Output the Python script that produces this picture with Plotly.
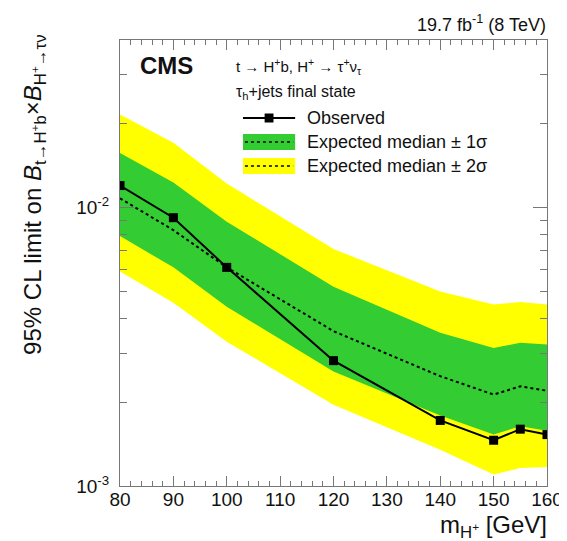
import math
import plotly.graph_objects as go

# ---------------- data ----------------
mass = [80, 90, 100, 120, 140, 150, 155, 160]
observed = [0.0120, 0.0092, 0.0061, 0.00282, 0.00172, 0.00146, 0.00160, 0.00153]
expected = [0.0108, 0.0083, 0.0061, 0.0036, 0.00248, 0.00213, 0.00228, 0.00220]
exp_p1 = [0.0157, 0.0123, 0.0089, 0.0052, 0.00355, 0.00313, 0.00327, 0.00322]
exp_m1 = [0.0079, 0.0061, 0.0044, 0.00258, 0.00179, 0.00153, 0.00164, 0.00158]
exp_p2 = [0.0216, 0.0171, 0.0122, 0.0071, 0.0050, 0.00449, 0.00458, 0.00449]
exp_m2 = [0.0059, 0.00455, 0.0033, 0.00196, 0.00135, 0.00110, 0.00116, 0.00117]

x_ticks = [80, 90, 100, 110, 120, 130, 140, 150, 160]
y_major = [0.001, 0.01]
y_major_text = ["10<sup>-3</sup>", "10<sup>-2</sup>"]
y_minor = [0.002, 0.003, 0.004, 0.005, 0.006, 0.007, 0.008, 0.009, 0.02, 0.03, 0.04]
y_range = [0.001, 0.04]

YELLOW = "#ffff00"
GREEN = "#33cc33"
FONT = "Liberation Sans"

W, H = 567, 541
L, R, T, B = 112, 21, 32, 63
pw, ph = W - L - R, H - T - B


def px(x):
    return (x - L) / pw


def py(y):
    return (H - B - y) / ph


fig = go.Figure()
fig.add_trace(go.Scatter(x=mass, y=exp_m2, mode="lines", line=dict(width=0, color=YELLOW),
                         showlegend=False, hoverinfo="skip"))
fig.add_trace(go.Scatter(x=mass, y=exp_p2, mode="lines", line=dict(width=0, color=YELLOW),
                         fill="tonexty", fillcolor=YELLOW, showlegend=False))
fig.add_trace(go.Scatter(x=mass, y=exp_m1, mode="lines", line=dict(width=0, color=GREEN),
                         showlegend=False, hoverinfo="skip"))
fig.add_trace(go.Scatter(x=mass, y=exp_p1, mode="lines", line=dict(width=0, color=GREEN),
                         fill="tonexty", fillcolor=GREEN, showlegend=False))
fig.add_trace(go.Scatter(x=mass, y=expected, mode="lines",
                         line=dict(color="black", width=2, dash="dot"), showlegend=False))
fig.add_trace(go.Scatter(x=mass, y=observed, mode="lines+markers",
                         line=dict(color="black", width=2),
                         marker=dict(symbol="square", size=9, color="black"), showlegend=False))

axis_common = dict(showline=True, linecolor="#777", linewidth=1, mirror="allticks",
                   ticks="inside", tickcolor="#777", showgrid=False, zeroline=False,
                   tickfont=dict(family=FONT, size=19, color="#111"))

fig.update_xaxes(range=[80, 160], tickvals=x_ticks, ticklen=10, ticklabelstandoff=-4,
                 minor=dict(dtick=2, ticks="inside", ticklen=5, tickcolor="#777"),
                 **axis_common)
fig.update_yaxes(type="log", range=[math.log10(v) for v in y_range],
                 tickvals=y_major, ticktext=y_major_text, ticklen=14, ticklabelstandoff=6,
                 minor=dict(tickvals=y_minor, ticks="inside", ticklen=7, tickcolor="#777"),
                 **axis_common)

ann = []
ann.append(dict(x=px(547), y=py(16), xref="paper", yref="paper", xanchor="right", yanchor="middle",
                text="19.7 fb<sup>-1</sup> (8 TeV)", showarrow=False,
                font=dict(family=FONT, size=18, color="#111")))
ann.append(dict(x=px(130), y=py(57), xref="paper", yref="paper", xanchor="left", yanchor="middle",
                text="<b>CMS</b>", showarrow=False, font=dict(family=FONT, size=24, color="#111")))
ann.append(dict(x=px(228), y=py(59), xref="paper", yref="paper", xanchor="left", yanchor="middle",
                text="t → H<sup>+</sup>b, H<sup>+</sup> → τ<sup>+</sup>ν<sub>τ</sub>", showarrow=False,
                font=dict(family=FONT, size=15, color="#111")))
ann.append(dict(x=px(228), y=py(84), xref="paper", yref="paper", xanchor="left", yanchor="middle",
                text="τ<sub>h</sub>+jets final state", showarrow=False,
                font=dict(family=FONT, size=16, color="#111")))
leg_text = ["Observed", "Expected median ± 1σ", "Expected median ± 2σ"]
leg_y = [110, 134, 158]
for t, yy in zip(leg_text, leg_y):
    ann.append(dict(x=px(300), y=py(yy), xref="paper", yref="paper", xanchor="left", yanchor="middle",
                    text=t, showarrow=False, font=dict(family=FONT, size=18, color="#111")))

ann.append(dict(x=px(548), y=py(536), xref="paper", yref="paper", xanchor="right", yanchor="bottom",
                text="m<sub>H<sup>+</sup></sub> [GeV]", showarrow=False,
                font=dict(family=FONT, size=24, color="#111")))
ann.append(dict(x=px(25), y=py(24), xref="paper", yref="paper", xanchor="center", yanchor="top",
                textangle=-90,
                text="95% CL limit on <i>B</i><sub>t→H<sup>+</sup>b</sub>×<i>B</i><sub>H<sup>+</sup>→τν</sub>",
                showarrow=False, font=dict(family=FONT, size=24, color="#111")))

shapes = []
# legend symbols
shapes.append(dict(type="line", xref="paper", yref="paper", x0=px(237), x1=px(290),
                   y0=py(leg_y[0]), y1=py(leg_y[0]), line=dict(color="black", width=2)))
shapes.append(dict(type="rect", xref="paper", yref="paper", x0=px(259), x1=px(268),
                   y0=py(leg_y[0] - 4.5), y1=py(leg_y[0] + 4.5), fillcolor="black",
                   line=dict(width=0)))
for yy, col in zip(leg_y[1:], [GREEN, YELLOW]):
    shapes.append(dict(type="rect", xref="paper", yref="paper", x0=px(237), x1=px(290),
                       y0=py(yy - 8), y1=py(yy + 8), fillcolor=col, line=dict(width=0)))
    shapes.append(dict(type="line", xref="paper", yref="paper", x0=px(239), x1=px(288),
                       y0=py(yy), y1=py(yy), line=dict(color="black", width=1.5, dash="dot")))

fig.update_layout(width=W, height=H, margin=dict(l=L, r=R, t=T, b=B, pad=0),
                  paper_bgcolor="white", plot_bgcolor="white", showlegend=False,
                  annotations=ann, shapes=shapes)

fig.write_html("out.html")
